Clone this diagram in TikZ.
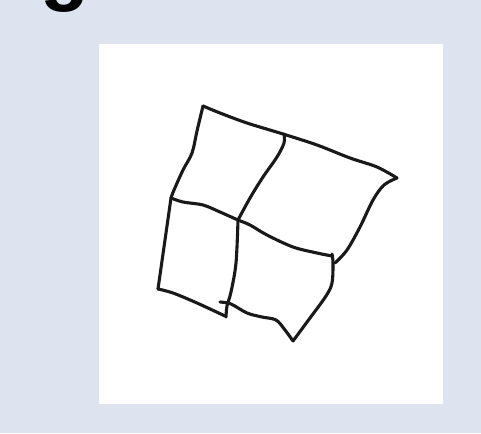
\documentclass[tikz,border=0pt]{standalone}
\usepackage{fontspec}
\newfontfamily\labelfont{Liberation Sans}
\definecolor{bgblue}{RGB}{221,227,239}
\begin{document}
\begin{tikzpicture}[x=1pt,y=-1pt,
  sketch/.style={line width=3.1pt,line cap=round,line join=round,black!90}]
\path[use as bounding box] (0,0) rectangle (481,433);
\clip (0,0) rectangle (481,433);
\fill[bgblue] (0,0) rectangle (481,433);
\fill[white] (99,44) rectangle (443,404);
\node[anchor=base west,inner sep=0pt,font=\labelfont\bfseries\fontsize{80}{80}\selectfont] (lbl) at (40,-4) {g};
% top edges
\draw[sketch] plot[smooth,tension=0.55] coordinates {(203,106) (220,113) (247,123) (283,134) (317,145) (350,158) (377,167) (397,178)};
% right edge of top-right cell
\draw[sketch] plot[smooth,tension=0.55] coordinates {(397,178) (384,185) (373,200) (360,227) (347,250) (335,263)};
% left edge upper
\draw[sketch] plot[smooth,tension=0.55] coordinates {(203,106) (197,131) (192,153) (183,170) (174,190) (171,198)};
% middle horizontal
\draw[sketch] plot[smooth,tension=0.55] coordinates {(171,198) (183,202) (203,205) (220,212) (238,220) (250,225) (267,235) (293,247) (317,253) (332,256)};
% middle vertical upper
\draw[sketch] plot[smooth,tension=0.55] coordinates {(284,134) (284,143) (277,157) (263,177) (250,198) (238,220)};
% middle vertical lower
\draw[sketch] plot[smooth,tension=0.55] coordinates {(238,220) (236,263) (231,292) (227,306) (226,317)};
% left edge lower
\draw[sketch] (171,198) -- (158,289);
% bottom of bottom-left cell
\draw[sketch] plot[smooth,tension=0.55] coordinates {(158,289) (173,293) (197,303) (225,316)};
% tick and bottom of bottom-right cell
\draw[sketch] plot[smooth,tension=0.55] coordinates {(220,302) (231,304) (247,313) (262,317) (276,320) (285,330) (293,341)};
% right edge of bottom-right cell
\draw[sketch] plot[smooth,tension=0.55] coordinates {(293,341) (310,318) (326,296) (332,283) (333,263) (332,254)};
\end{tikzpicture}
\end{document}
